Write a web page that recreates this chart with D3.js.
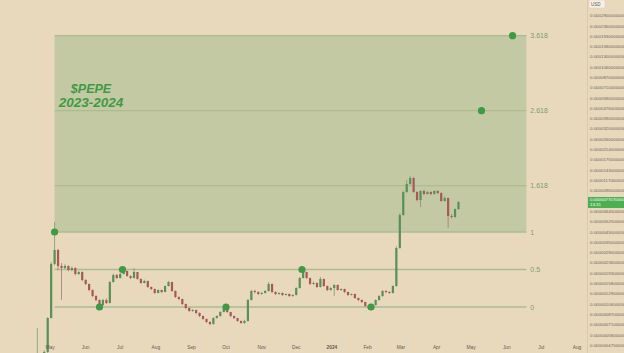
<!DOCTYPE html>
<html>
<head>
<meta charset="utf-8">
<script src="https://cdn.jsdelivr.net/npm/d3@7"></script>
<style>
html, body { margin: 0; padding: 0; background: #e8d9bd; overflow: hidden; }
svg { display: block; }
</style>
</head>
<body>
<script>
// PEPE / USD, 3-day candles, prices in 1e-6 USD
var candleStart = "2023-04-17";
var candleDays = 3;
var firstOpen = 0.36;
var closes = [0.357, 0.393, 0.371, 0.417, 0.807, 2.31, 3.03, 2.22, 2.135, 2.22,
    2.054, 2.135, 1.90, 1.975, 1.691, 1.564, 1.392, 1.238, 1.146, 1.040,
    1.146, 1.081, 1.626, 1.863, 1.758, 1.90, 2.014, 1.827, 1.758, 1.975,
    1.724, 1.595, 1.658, 1.476, 1.419, 1.313, 1.392, 1.339, 1.504, 1.626,
    1.365, 1.215, 1.168, 1.060, 0.981, 0.925, 0.943, 0.890, 0.839, 0.792,
    0.747, 0.718, 0.807, 0.839, 0.907, 0.981, 0.907, 0.839, 0.807, 0.762,
    0.733, 0.762, 1.146, 1.365, 1.339, 1.288, 1.313, 1.365, 1.564, 1.339,
    1.288, 1.313, 1.263, 1.288, 1.238, 1.263, 1.447, 1.758, 1.975, 1.758,
    1.564, 1.595, 1.476, 1.724, 1.504, 1.392, 1.447, 1.534, 1.392, 1.419,
    1.339, 1.263, 1.288, 1.191, 1.146, 1.102, 1.020, 0.981, 1.040, 1.146,
    1.238, 1.365, 1.339, 1.313, 1.504, 3.15, 5.98, 9.36, 10.94, 12.29,
    9.36, 8.01, 9.545, 9.003, 9.361, 9.003, 9.545, 9.181, 7.858, 8.329,
    5.87, 5.756, 6.726, 7.707];
var highs = [0.37, 0.665, 0.40, 0.43, 0.82, 2.40, 5.22, 3.10, 2.35, 2.30,
    2.25, 2.20, 2.17, 2.02, 2.0, 1.72, 1.58, 1.41, 1.26, 1.16,
    1.17, 1.18, 1.66, 1.92, 1.90, 1.95, 2.094, 2.03, 1.85, 2.135,
    1.98, 1.75, 1.70, 1.67, 1.49, 1.43, 1.41, 1.40, 1.52, 1.66,
    1.63, 1.38, 1.23, 1.18, 1.07, 0.99, 0.96, 0.95, 0.90, 0.85,
    0.80, 0.76, 0.82, 0.85, 0.92, 1.02, 0.99, 0.91, 0.85, 0.81,
    0.77, 0.78, 1.17, 1.40, 1.40, 1.36, 1.34, 1.39, 1.626, 1.58,
    1.36, 1.33, 1.33, 1.30, 1.30, 1.28, 1.47, 1.79, 2.094, 1.99,
    1.77, 1.64, 1.61, 1.792, 1.74, 1.52, 1.47, 1.56, 1.55, 1.44,
    1.43, 1.35, 1.30, 1.30, 1.20, 1.16, 1.11, 1.03, 1.05, 1.16,
    1.26, 1.39, 1.39, 1.36, 1.53, 3.25, 6.2, 9.6, 11.82, 12.78,
    12.5, 9.5, 9.7, 9.8, 9.6, 9.5, 9.73, 9.7, 9.3, 8.6,
    8.4, 6.1, 6.8, 7.85];
var lows = [0.34, 0.35, 0.35, 0.36, 0.40, 0.80, 2.25, 2.05, 1.15, 2.08,
    2.0, 2.0, 1.85, 1.86, 1.65, 1.53, 1.36, 1.21, 1.12, 0.98,
    1.02, 1.06, 1.07, 1.60, 1.72, 1.74, 1.88, 1.80, 1.72, 1.74,
    1.70, 1.57, 1.58, 1.45, 1.39, 1.29, 1.30, 1.31, 1.33, 1.49,
    1.34, 1.19, 1.14, 1.04, 0.96, 0.91, 0.91, 0.87, 0.82, 0.78,
    0.73, 0.70, 0.71, 0.80, 0.83, 0.90, 0.89, 0.82, 0.79, 0.75,
    0.72, 0.72, 0.75, 1.13, 1.30, 1.26, 1.27, 1.30, 1.35, 1.31,
    1.26, 1.27, 1.24, 1.25, 1.22, 1.22, 1.25, 1.43, 1.74, 1.72,
    1.53, 1.54, 1.45, 1.46, 1.48, 1.36, 1.37, 1.238, 1.37, 1.37,
    1.31, 1.24, 1.25, 1.17, 1.12, 1.08, 1.00, 0.96, 0.943, 1.03,
    1.13, 1.22, 1.31, 1.29, 1.30, 1.48, 3.1, 5.9, 9.2, 10.7,
    9.2, 7.8, 6.99, 8.8, 8.9, 8.8, 8.9, 9.0, 7.7, 7.75,
    4.648, 5.6, 5.65, 6.6];

// fib extension (log), prices at level 0 and level 1
var fibBase = [1.0, 4.3];
var fibLevels = [0, 0.5, 1, 1.618, 2.618, 3.618];
var fibLabels = ["0", "0.5", "1", "1.618", "2.618", "3.618"];
var fibFrom = "2023-05-05";
var fibTo = "2024-06-18";
var dotDates = ["2023-05-05", "2023-06-13", "2023-07-03", "2023-10-01", "2023-12-06", "2024-02-04", "2024-05-10", "2024-06-06"];
var dotLevels = [1, 0, 0.5, 0, 0.5, 0, 2.618, 3.618];

// axis labels
var priceTicks = [290, 236, 193, 158, 130, 106, 87, 71, 58, 47.6, 39, 32, 26, 21.4, 17.5, 14.3,
    11.7, 9.6, 7.8, 6.4, 5.25, 4.3, 3.5, 2.9, 2.36, 1.93, 1.58, 1.29, 1.06, 0.87, 0.71, 0.58, 0.475];
var monthLabels = ["May", "Jun", "Jul", "Aug", "Sep", "Oct", "Nov", "Dec", "2024", "Feb", "Mar", "Apr", "May", "Jun", "Jul", "Aug"];
var lastTime = "13:15";

var width = 624, height = 353;
var parse = d3.utcParse("%Y-%m-%d");

var x = d3.scaleUtc()
    .domain([parse("2023-05-01"), parse("2024-08-01")])
    .range([50, 577]);
var y = d3.scaleLog()
    .domain(fibBase)
    .range([307, 232]);

function fibPrice(lv) {
    return fibBase[0] * Math.pow(fibBase[1] / fibBase[0], lv);
}

var svg = d3.select("body").append("svg")
    .attr("width", width)
    .attr("height", height);

svg.append("rect").attr("width", width).attr("height", height).attr("fill", "#e8d9bd");

// fib zone between 1 and 3.618
var fx0 = x(parse(fibFrom)), fx1 = x(parse(fibTo));
svg.append("rect")
    .attr("x", fx0)
    .attr("y", y(fibPrice(3.618)))
    .attr("width", fx1 - fx0)
    .attr("height", y(fibPrice(1)) - y(fibPrice(3.618)))
    .attr("fill", "#c3c9a3");

svg.selectAll("line.fib").data(fibLevels).enter().append("line")
    .attr("class", "fib")
    .attr("x1", fx0).attr("x2", fx1)
    .attr("y1", function (d) { return y(fibPrice(d)); })
    .attr("y2", function (d) { return y(fibPrice(d)); })
    .attr("stroke", "#aebb8f")
    .attr("stroke-width", 1.3);

svg.selectAll("text.fib").data(fibLevels).enter().append("text")
    .attr("class", "fib")
    .attr("x", fx1 + 4)
    .attr("y", function (d) { return y(fibPrice(d)) + 2.5; })
    .attr("font-family", "Liberation Sans, Arial, sans-serif")
    .attr("font-size", 7)
    .attr("fill", "#7f9a70")
    .text(function (d, i) { return fibLabels[i]; });

// candles
var candles = closes.map(function (c, i) {
    return {
        date: d3.utcDay.offset(parse(candleStart), i * candleDays),
        open: i == 0 ? firstOpen : closes[i - 1],
        close: c, high: highs[i], low: lows[i]
    };
});

var g = svg.append("g");
g.selectAll("line.wick").data(candles).enter().append("line")
    .attr("class", "wick")
    .attr("x1", function (d) { return x(d.date); })
    .attr("x2", function (d) { return x(d.date); })
    .attr("y1", function (d) { return y(d.high); })
    .attr("y2", function (d) { return y(d.low); })
    .attr("stroke", function (d) { return d.close >= d.open ? "#7b9a72" : "#a8766f"; })
    .attr("stroke-width", 0.8);

g.selectAll("rect.body").data(candles).enter().append("rect")
    .attr("class", "body")
    .attr("x", function (d) { return x(d.date) - 1.1; })
    .attr("y", function (d) { return y(Math.max(d.open, d.close)); })
    .attr("width", 2.2)
    .attr("height", function (d) { return Math.max(0.8, Math.abs(y(d.open) - y(d.close))); })
    .attr("fill", function (d) { return d.close >= d.open ? "#5a8f55" : "#a85955"; });

// anchor dots
svg.selectAll("circle").data(dotDates).enter().append("circle")
    .attr("cx", function (d) { return x(parse(d)); })
    .attr("cy", function (d, i) { return y(fibPrice(dotLevels[i])); })
    .attr("r", 3.6)
    .attr("fill", "#3f9a45");

// title
var title = svg.append("text")
    .attr("x", 91)
    .attr("font-family", "Liberation Sans, Arial, sans-serif")
    .attr("font-weight", "bold")
    .attr("font-style", "italic")
    .attr("fill", "#3f9a45")
    .attr("text-anchor", "middle");
title.append("tspan").attr("x", 91).attr("y", 93).attr("font-size", 12.5).text("$PEPE");
title.append("tspan").attr("x", 91).attr("y", 107).attr("font-size", 13.5).text("2023-2024");

// price axis on the right
svg.append("line")
    .attr("x1", 587.5).attr("x2", 587.5)
    .attr("y1", 0).attr("y2", height)
    .attr("stroke", "#d9cbb0").attr("stroke-width", 1);

svg.selectAll("text.price").data(priceTicks).enter().append("text")
    .attr("class", "price")
    .attr("x", 590)
    .attr("y", function (d) { return y(d) + 1.5; })
    .attr("font-family", "Liberation Sans, Arial, sans-serif")
    .attr("font-size", 4.4)
    .attr("fill", "#6b665c")
    .text(function (d) { return (d * 1e-6).toFixed(13); });

svg.append("rect").attr("x", 589).attr("y", 0).attr("width", 16).attr("height", 8)
    .attr("fill", "#f7f1e4").attr("stroke", "#d6ccb8").attr("stroke-width", 0.5);
svg.append("text").attr("x", 591).attr("y", 6).attr("font-size", 4.5)
    .attr("font-family", "Liberation Sans, Arial, sans-serif").attr("fill", "#555").text("USD");

// last price tag
var lastClose = closes[closes.length - 1];
var ly = y(lastClose);
svg.append("rect").attr("x", 588).attr("y", ly - 5).attr("width", 36).attr("height", 11)
    .attr("fill", "#4caf50");
svg.append("text").attr("x", 590).attr("y", ly - 0.5).attr("font-size", 4.3)
    .attr("font-family", "Liberation Sans, Arial, sans-serif").attr("fill", "#ffffff")
    .text((lastClose * 1e-6).toFixed(13));
svg.append("text").attr("x", 590).attr("y", ly + 4.5).attr("font-size", 4.3)
    .attr("font-family", "Liberation Sans, Arial, sans-serif").attr("fill", "#ffffff")
    .text(lastTime);

// time axis
var months = d3.utcMonth.range(parse("2023-05-01"), parse("2024-08-02"));
svg.selectAll("text.month").data(months).enter().append("text")
    .attr("class", "month")
    .attr("x", function (d) { return x(d); })
    .attr("y", 349)
    .attr("text-anchor", "middle")
    .attr("font-family", "Liberation Sans, Arial, sans-serif")
    .attr("font-size", 4.8)
    .attr("font-weight", function (d, i) { return monthLabels[i] == "2024" ? "bold" : "normal"; })
    .attr("fill", "#5e5a52")
    .text(function (d, i) { return monthLabels[i]; });
</script>
</body>
</html>
